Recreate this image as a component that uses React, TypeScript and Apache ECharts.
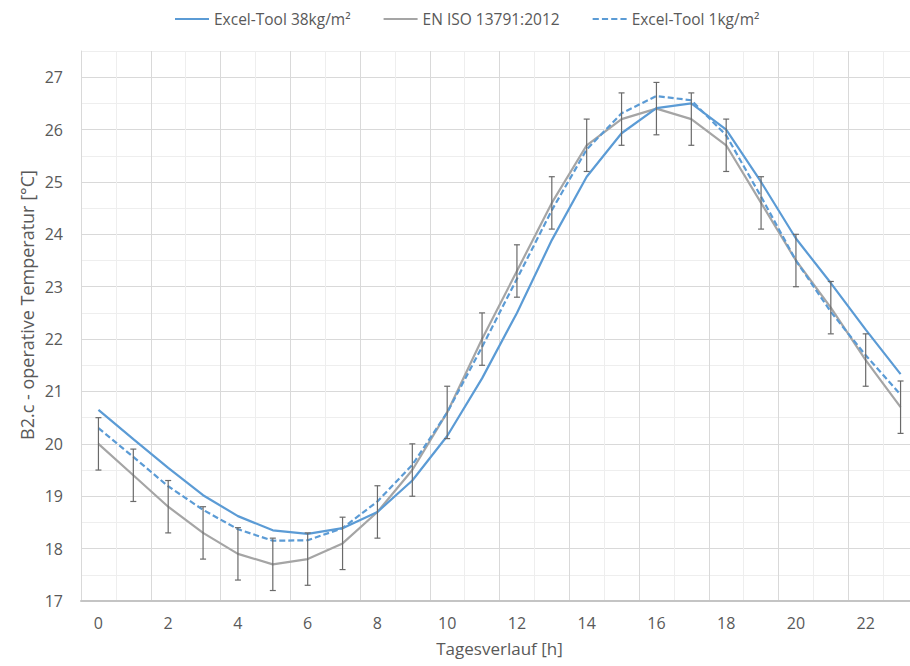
import React, { useEffect, useRef } from "react";
import * as echarts from "echarts";

const hours = ["0","1","2","3","4","5","6","7","8","9","10","11","12","13","14","15","16","17","18","19","20","21","22","23"];
const excel38 = [20.65,20.09,19.54,19.02,18.62,18.35,18.28,18.39,18.7,19.3,20.15,21.25,22.5,23.89,25.1,25.93,26.41,26.5,26.0,25.0,23.92,23.07,22.18,21.33];
const enIso = [20.0,19.4,18.8,18.3,17.9,17.7,17.8,18.1,18.7,19.5,20.6,22.0,23.3,24.6,25.7,26.2,26.4,26.2,25.7,24.6,23.5,22.6,21.6,20.7];
const excel1 = [20.3,19.75,19.19,18.74,18.37,18.15,18.16,18.39,18.9,19.6,20.6,21.85,23.15,24.46,25.62,26.31,26.64,26.56,25.89,24.72,23.5,22.52,21.69,20.94];
const errorMargin = [0.5,0.5,0.5,0.5,0.5,0.5,0.5,0.5,0.5,0.5,0.5,0.5,0.5,0.5,0.5,0.5,0.5,0.5,0.5,0.5,0.5,0.5,0.5,0.5];
const seriesNames = ["Excel-Tool 38kg/m²", "EN ISO 13791:2012", "Excel-Tool 1kg/m²"];
const xTitle = "Tagesverlauf [h]";
const yTitle = "B2.c - operative Temperatur [°C]";

const FONT = "Open Sans";
const TXT = "#595959";
const SOLID_ICON = "path://M0 0H34V2H0Z";
const DASH_ICON = "path://M0 0H6V2H0Z M9 0H15V2H9Z M18 0H24V2H18Z M27 0H33V2H27Z";

export default function App() {
  const ref = useRef<HTMLDivElement>(null);
  useEffect(() => {
    if (!ref.current) return;
    const chart = echarts.init(ref.current, null, { renderer: "svg" });
    const errData = enIso.map((v, i) => [i, v - errorMargin[i], v + errorMargin[i]]);
    chart.setOption({
      animation: false,
      backgroundColor: "#ffffff",
      textStyle: { fontFamily: FONT },
      legend: {
        left: 170,
        top: 6,
        itemWidth: 34,
        itemHeight: 2.2,
        itemGap: 33,
        textStyle: { fontFamily: FONT, fontSize: 15.5, color: TXT },
        data: [
          { name: seriesNames[0], icon: SOLID_ICON },
          { name: seriesNames[1], icon: SOLID_ICON },
          { name: seriesNames[2], icon: DASH_ICON },
        ],
      },
      grid: { left: 81, top: 51, width: 837, height: 550, containLabel: false, outerBoundsMode: "none" },
      graphic: [
        {
          type: "text",
          x: 27,
          y: 305,
          rotation: Math.PI / 2,
          style: {
            text: yTitle,
            fontFamily: FONT,
            fontSize: 18,
            fill: TXT,
            align: "center",
            verticalAlign: "middle",
          },
        },
      ],
      xAxis: {
        type: "category",
        data: hours,
        boundaryGap: true,
        name: xTitle,
        nameLocation: "middle",
        nameGap: 39,
        nameTextStyle: { fontFamily: FONT, fontSize: 17, color: TXT },
        axisLine: { show: true, lineStyle: { color: "#c4c4c4", width: 2 } },
        axisTick: { show: false },
        axisLabel: { interval: 1, margin: 14, fontFamily: FONT, fontSize: 16, color: TXT },
        splitLine: { show: true, interval: 0, lineStyle: { color: ["#d9d9d9", "#eeeeee"], width: 1 } },
      },
      yAxis: {
        type: "value",
        min: 17,
        max: 27.5,
        interval: 0.5,
        axisLine: { show: true, lineStyle: { color: "#d9d9d9", width: 1 } },
        axisTick: { show: false },
        axisLabel: {
          margin: 18,
          fontFamily: FONT,
          fontSize: 16,
          color: TXT,
          formatter: (v: number) => (Math.abs(v - Math.round(v)) < 1e-6 ? String(Math.round(v)) : ""),
        },
        splitLine: { show: true, lineStyle: { color: ["#d9d9d9", "#eeeeee"], width: 1 } },
      },
      series: [
        {
          name: seriesNames[0],
          type: "line",
          data: excel38,
          symbol: "none",
          lineStyle: { color: "#5B9BD5", width: 2.2 },
          itemStyle: { color: "#5B9BD5" },
          z: 3,
        },
        {
          name: seriesNames[1],
          type: "line",
          data: enIso,
          symbol: "none",
          lineStyle: { color: "#A5A5A5", width: 2.2 },
          itemStyle: { color: "#A5A5A5" },
          z: 2,
        },
        {
          name: seriesNames[2],
          type: "line",
          data: excel1,
          symbol: "none",
          lineStyle: { color: "#5B9BD5", width: 2.2, type: [6, 3] },
          itemStyle: { color: "#5B9BD5" },
          z: 4,
        },
        {
          name: "errors",
          type: "custom",
          data: errData,
          encode: { x: 0, y: [1, 2] },
          z: 5,
          renderItem: (params: any, api: any) => {
            const x = api.value(0);
            const lo = api.coord([x, api.value(1)]);
            const hi = api.coord([x, api.value(2)]);
            const cap = 3;
            const style = { stroke: "#6a6a6a", lineWidth: 1.2 };
            return {
              type: "group",
              children: [
                { type: "line", shape: { x1: lo[0], y1: lo[1], x2: hi[0], y2: hi[1] }, style },
                { type: "line", shape: { x1: lo[0] - cap, y1: lo[1], x2: lo[0] + cap, y2: lo[1] }, style },
                { type: "line", shape: { x1: hi[0] - cap, y1: hi[1], x2: hi[0] + cap, y2: hi[1] }, style },
              ],
            };
          },
        },
      ],
    });
    return () => chart.dispose();
  }, []);
  return (
    <div
      ref={ref}
      style={{ position: "fixed", left: 0, top: 0, width: 910, height: 666, background: "#fff" }}
    />
  );
}
